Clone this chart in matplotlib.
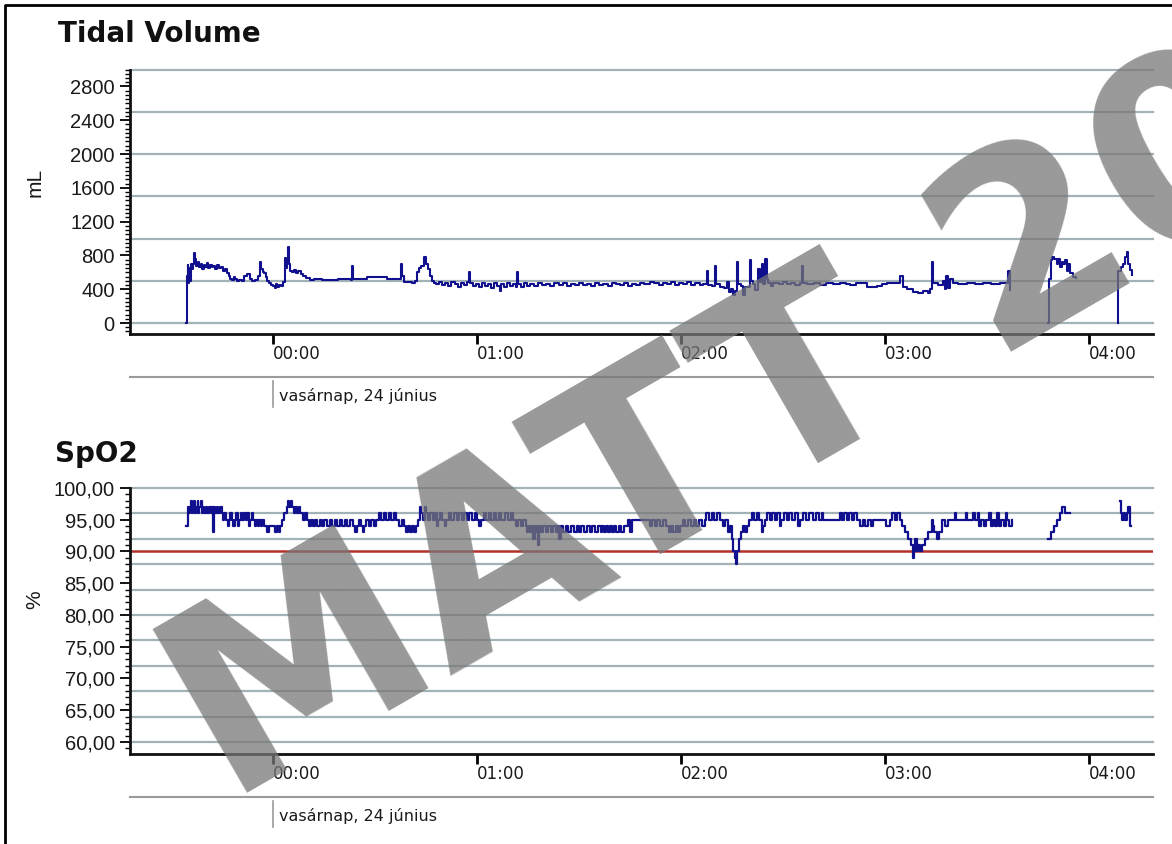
import numpy as np
import matplotlib
matplotlib.use("Agg")
import matplotlib.pyplot as plt
from matplotlib.lines import Line2D
from matplotlib.ticker import FixedLocator, MultipleLocator

nan = np.nan

# ---- data (time = hours from midnight, NaN = gap in recording) ----
tv_hours = [
    -0.427, -0.424, -0.421, -0.418, -0.415, -0.412, -0.408, -0.404, -0.400, -0.395,
    -0.390, -0.385, -0.380, -0.376, -0.370, -0.362, -0.355, -0.348, -0.340, -0.332,
    -0.325, -0.318, -0.310, -0.300, -0.292, -0.283, -0.275, -0.265, -0.255, -0.245,
    -0.235, -0.226, -0.218, -0.210, -0.200, -0.192, -0.185, -0.178, -0.165, -0.150,
    -0.140, -0.128, -0.115, -0.105, -0.090, -0.075, -0.066, -0.058, -0.050, -0.042,
    -0.035, -0.027, -0.018, -0.010, 0.000, 0.008, 0.015, 0.022, 0.030, 0.040,
    0.050, 0.057, 0.063, 0.069, 0.074, 0.078, 0.085, 0.095, 0.105, 0.115,
    0.125, 0.135, 0.145, 0.160, 0.180, 0.200, 0.240, 0.280, 0.320, 0.360,
    0.382, 0.386, 0.390, 0.420, 0.459, 0.520, 0.557, 0.600, 0.622, 0.626,
    0.632, 0.640, 0.660, 0.680, 0.695, 0.704, 0.715, 0.728, 0.742, 0.750,
    0.760, 0.770, 0.780, 0.790, 0.800, 0.815, 0.830, 0.845, 0.860, 0.875,
    0.890, 0.905, 0.920, 0.935, 0.950, 0.963, 0.968, 0.980, 0.995, 1.010,
    1.025, 1.040, 1.055, 1.070, 1.085, 1.100, 1.113, 1.118, 1.130, 1.145,
    1.160, 1.175, 1.190, 1.194, 1.200, 1.215, 1.230, 1.245, 1.260, 1.280,
    1.300, 1.320, 1.340, 1.360, 1.380, 1.400, 1.420, 1.440, 1.460, 1.480,
    1.500, 1.520, 1.540, 1.560, 1.580, 1.600, 1.620, 1.640, 1.660, 1.680,
    1.700, 1.720, 1.740, 1.760, 1.780, 1.800, 1.820, 1.848, 1.870, 1.890,
    1.910, 1.930, 1.950, 1.970, 1.990, 2.010, 2.030, 2.050, 2.070, 2.093,
    2.110, 2.126, 2.132, 2.150, 2.167, 2.172, 2.191, 2.210, 2.224, 2.235,
    2.245, 2.257, 2.265, 2.273, 2.280, 2.295, 2.306, 2.315, 2.338, 2.345,
    2.355, 2.365, 2.379, 2.387, 2.395, 2.402, 2.412, 2.420, 2.428, 2.440,
    2.453, 2.480, 2.500, 2.518, 2.540, 2.560, 2.583, 2.592, 2.598, 2.620,
    2.650, 2.680, 2.710, 2.747, 2.780, 2.810, 2.829, 2.860, 2.910, 2.959,
    2.985, 3.008, 3.060, 3.074, 3.090, 3.110, 3.139, 3.160, 3.188, 3.210,
    3.220, 3.229, 3.237, 3.260, 3.286, 3.292, 3.300, 3.310, 3.320, 3.335,
    3.360, 3.400, 3.440, 3.482, 3.520, 3.564, 3.600, 3.605, 3.613, 3.614,
    3.801, 3.805, 3.812, 3.820, 3.830, 3.842, 3.850, 3.858, 3.866, 3.874,
    3.882, 3.891, 3.899, 3.907, 3.920, 3.936, 3.937,
    4.141, 4.144, 4.155, 4.168, 4.178, 4.185, 4.192, 4.200, 4.211,
]
tv_ml = [
    0, 310, 560, 690, 470, 650, 500, 620, 700, 640,
    700, 830, 760, 680, 720, 660, 700, 640, 690, 660,
    710, 650, 690, 660, 680, 640, 690, 650, 660, 620,
    640, 590, 560, 520, 510, 540, 520, 500, 510, 500,
    560, 580, 520, 500, 510, 560, 720, 640, 600, 590,
    540, 500, 470, 450, 440, 420, 460, 430, 450, 440,
    480, 770, 650, 760, 900, 700, 620, 600, 630, 590,
    610, 580, 560, 530, 510, 520, 505, 510, 520, 515,
    510, 680, 520, 515, 545, 545, 515, 515, 520, 700,
    560, 490, 480, 470, 500, 600, 650, 680, 780, 700,
    640, 560, 500, 470, 460, 480, 450, 470, 440, 480,
    460, 430, 470, 450, 480, 600, 470, 440, 460, 430,
    470, 440, 460, 420, 470, 440, 380, 460, 430, 470,
    440, 460, 430, 600, 460, 430, 470, 440, 460, 440,
    470, 450, 460, 440, 470, 450, 470, 440, 460, 450,
    470, 450, 460, 440, 470, 450, 460, 440, 470, 460,
    450, 470, 440, 460, 450, 470, 460, 490, 470, 450,
    470, 460, 480, 450, 470, 460, 480, 450, 470, 450,
    460, 620, 450, 440, 680, 460, 430, 420, 480, 370,
    400, 330, 380, 720, 460, 440, 330, 430, 740, 500,
    460, 390, 640, 480, 700, 460, 760, 520, 470, 440,
    470, 460, 480, 460, 470, 450, 470, 680, 470, 460,
    470, 450, 470, 460, 470, 460, 450, 470, 430, 440,
    460, 470, 470, 560, 430, 400, 370, 350, 380, 360,
    400, 720, 470, 450, 500, 400, 560, 420, 520, 470,
    460, 470, 460, 470, 460, 470, 470, 620, 390, nan,
    0, 520, 740, 780, 760, 700, 760, 660, 720, 700,
    740, 620, 700, 590, 540, 530, nan,
    0, 620, 660, 700, 780, 840, 700, 630, 570,
]

spo2_hours = [
    -0.426, -0.419, -0.413, -0.408, -0.401, -0.397, -0.392, -0.386, -0.381, -0.376,
    -0.370, -0.366, -0.361, -0.355, -0.350, -0.344, -0.336, -0.330, -0.322, -0.314,
    -0.305, -0.297, -0.293, -0.289, -0.282, -0.276, -0.268, -0.260, -0.252, -0.245,
    -0.238, -0.230, -0.222, -0.216, -0.209, -0.202, -0.195, -0.188, -0.180, -0.172,
    -0.166, -0.158, -0.150, -0.142, -0.134, -0.125, -0.116, -0.111, -0.104, -0.096,
    -0.089, -0.083, -0.075, -0.068, -0.060, -0.053, -0.045, -0.031, -0.018, 0.010,
    0.018, 0.027, 0.034, 0.042, 0.055, 0.068, 0.074, 0.080, 0.088, 0.094,
    0.102, 0.110, 0.118, 0.126, 0.134, 0.145, 0.155, 0.165, 0.175, 0.185,
    0.195, 0.205, 0.215, 0.228, 0.240, 0.252, 0.265, 0.278, 0.290, 0.302,
    0.315, 0.328, 0.340, 0.352, 0.365, 0.378, 0.392, 0.402, 0.410, 0.420,
    0.430, 0.440, 0.447, 0.458, 0.470, 0.482, 0.494, 0.506, 0.518, 0.530,
    0.542, 0.555, 0.567, 0.580, 0.592, 0.605, 0.618, 0.630, 0.642, 0.652,
    0.660, 0.670, 0.680, 0.690, 0.700, 0.712, 0.722, 0.728, 0.736, 0.745,
    0.752, 0.762, 0.772, 0.782, 0.792, 0.802, 0.808, 0.818, 0.830, 0.842,
    0.850, 0.862, 0.875, 0.888, 0.900, 0.912, 0.925, 0.938, 0.950, 0.962,
    0.975, 0.988, 1.000, 1.012, 1.020, 1.032, 1.045, 1.058, 1.070, 1.082,
    1.095, 1.108, 1.120, 1.135, 1.150, 1.165, 1.178, 1.190, 1.202, 1.214,
    1.227, 1.238, 1.245, 1.252, 1.262, 1.270, 1.276, 1.283, 1.292, 1.301,
    1.306, 1.316, 1.326, 1.338, 1.350, 1.362, 1.374, 1.386, 1.396, 1.404,
    1.410, 1.422, 1.435, 1.448, 1.460, 1.474, 1.488, 1.500, 1.512, 1.524,
    1.538, 1.552, 1.566, 1.580, 1.594, 1.606, 1.615, 1.624, 1.633, 1.642,
    1.651, 1.660, 1.670, 1.682, 1.695, 1.708, 1.720, 1.742, 1.752, 1.758,
    1.848, 1.860, 1.872, 1.884, 1.896, 1.910, 1.929, 1.940, 1.950, 1.962,
    1.975, 1.985, 1.995, 2.008, 2.020, 2.034, 2.048, 2.062, 2.076, 2.090,
    2.104, 2.118, 2.125, 2.138, 2.150, 2.164, 2.178, 2.191, 2.205, 2.218,
    2.230, 2.240, 2.248, 2.256, 2.265, 2.270, 2.276, 2.284, 2.292, 2.302,
    2.312, 2.322, 2.334, 2.346, 2.358, 2.371, 2.384, 2.398, 2.404, 2.412,
    2.424, 2.436, 2.448, 2.460, 2.472, 2.485, 2.492, 2.505, 2.518, 2.530,
    2.545, 2.560, 2.575, 2.585, 2.600, 2.615, 2.630, 2.645, 2.660, 2.675,
    2.690, 2.698, 2.779, 2.790, 2.800, 2.812, 2.825, 2.838, 2.850, 2.865,
    2.877, 2.890, 2.902, 2.915, 2.930, 2.943, 3.005, 3.025, 3.035, 3.048,
    3.060, 3.074, 3.082, 3.098, 3.114, 3.126, 3.136, 3.142, 3.147, 3.155,
    3.163, 3.172, 3.180, 3.196, 3.212, 3.229, 3.235, 3.240, 3.253, 3.266,
    3.278, 3.294, 3.310, 3.345, 3.350, 3.395, 3.400, 3.433, 3.440, 3.455,
    3.462, 3.470, 3.485, 3.495, 3.510, 3.518, 3.528, 3.538, 3.550, 3.560,
    3.570, 3.582, 3.592, 3.600, 3.610, 3.621, 3.622,
    3.801, 3.815, 3.830, 3.845, 3.858, 3.866, 3.882, 3.907, 3.908,
    4.150, 4.155, 4.162, 4.170, 4.178, 4.186, 4.192, 4.200, 4.207,
]
spo2_pct = [
    94, 97, 96, 97, 98, 96, 97, 98, 96, 97,
    98, 96, 97, 98, 96, 97, 96, 97, 96, 97,
    96, 97, 93, 97, 96, 97, 96, 97, 96, 95,
    96, 95, 94, 95, 96, 95, 94, 95, 96, 94,
    95, 96, 95, 96, 95, 96, 94, 95, 96, 95,
    94, 95, 94, 95, 94, 95, 94, 93, 94, 93,
    94, 93, 94, 95, 96, 97, 98, 97, 98, 97,
    96, 97, 96, 97, 96, 95, 96, 95, 94, 95,
    94, 95, 94, 95, 94, 95, 94, 95, 94, 95,
    94, 95, 94, 95, 94, 95, 94, 93, 94, 95,
    94, 93, 94, 95, 94, 95, 94, 95, 96, 95,
    96, 95, 96, 95, 96, 95, 94, 95, 94, 93,
    94, 93, 94, 93, 94, 95, 97, 96, 95, 97,
    96, 95, 96, 95, 96, 94, 95, 96, 95, 94,
    95, 96, 95, 96, 95, 96, 95, 96, 95, 96,
    95, 96, 95, 94, 95, 96, 95, 96, 95, 96,
    95, 96, 95, 96, 95, 96, 95, 94, 95, 94,
    95, 94, 93, 94, 93, 94, 92, 94, 93, 91,
    94, 93, 94, 93, 94, 93, 94, 93, 94, 92,
    94, 93, 94, 93, 94, 93, 94, 93, 94, 93,
    94, 93, 94, 93, 94, 93, 94, 93, 94, 93,
    94, 93, 94, 93, 94, 93, 94, 95, 93, 95,
    94, 95, 94, 95, 94, 95, 94, 93, 94, 93,
    94, 93, 94, 95, 94, 95, 94, 95, 94, 95,
    94, 95, 96, 95, 96, 95, 96, 95, 94, 95,
    93, 94, 92, 90, 89, 88, 90, 92, 93, 94,
    93, 94, 95, 96, 95, 96, 95, 93, 94, 95,
    96, 95, 96, 95, 96, 94, 95, 96, 95, 96,
    95, 96, 94, 95, 96, 95, 96, 95, 96, 95,
    96, 95, 96, 95, 96, 95, 96, 95, 96, 95,
    94, 95, 94, 95, 94, 95, 94, 95, 96, 95,
    96, 95, 94, 93, 92, 91, 89, 90, 92, 90,
    91, 90, 91, 92, 93, 95, 94, 93, 92, 93,
    95, 94, 95, 96, 95, 96, 95, 96, 95, 96,
    94, 95, 94, 95, 96, 94, 95, 94, 96, 94,
    95, 94, 96, 95, 94, 95, nan,
    92, 93, 94, 95, 96, 97, 96, 96, nan,
    98, 96, 95, 96, 95, 96, 97, 94, 94,
]

hour_ticks = [0, 1, 2, 3, 4]
hour_labels = ["00:00", "01:00", "02:00", "03:00", "04:00"]
tv_ticks = [0, 400, 800, 1200, 1600, 2000, 2400, 2800]
tv_grid = [0, 500, 1000, 1500, 2000, 2500, 3000]
spo2_ticks = [60, 65, 70, 75, 80, 85, 90, 95, 100]
spo2_tick_labels = ["60,00", "65,00", "70,00", "75,00", "80,00",
                    "85,00", "90,00", "95,00", "100,00"]
spo2_grid = [60, 64, 68, 72, 76, 80, 84, 88, 92, 96, 100]
spo2_limit = 90
date_text = "vasárnap, 24 június"

# ---- layout in pixels ----
W, H = 1172, 844
plt.rcParams["font.family"] = ["DejaVu Sans"]

GRID_COLOR = "#a2b2b7"
LINE_COLOR = "#10108f"
TEXT_COLOR = "#1a1a1a"


def fx(px):
    return px / W


def fy(py):
    return 1 - py / H


fig = plt.figure(figsize=(W / 100, H / 100), dpi=100)
fig.patch.set_facecolor("white")

ax_tv = fig.add_axes([fx(130), fy(334), fx(1153) - fx(130), fy(69.5) - fy(334)])
ax_sp = fig.add_axes([fx(130), fy(754), fx(1153) - fx(130), fy(488) - fy(754)])


def style_axes(ax, grid_values):
    ax.set_xlim(-0.701, 4.314)
    for side in ("top", "right"):
        ax.spines[side].set_visible(False)
    for side in ("left", "bottom"):
        ax.spines[side].set_linewidth(2)
        ax.spines[side].set_color("#111111")
    for g in grid_values:
        ax.axhline(g, color=GRID_COLOR, lw=1.6, zorder=1, clip_on=False)
    ax.set_xticks(hour_ticks)
    ax.set_xticklabels(hour_labels, fontsize=12, color=TEXT_COLOR, ha="left")
    ax.tick_params(axis="x", direction="out", length=7, width=2, pad=1)
    ax.tick_params(axis="y", which="major", direction="out", length=7, width=1.3, pad=4)
    ax.tick_params(axis="y", which="minor", direction="out", length=3.5, width=1)
    for lbl in ax.get_yticklabels():
        lbl.set_fontfamily("Liberation Sans")
        lbl.set_fontsize(14.5)
        lbl.set_color(TEXT_COLOR)


# --- Tidal Volume ---
ax_tv.set_ylim(-130, 3000)
ax_tv.yaxis.set_major_locator(FixedLocator(tv_ticks))
ax_tv.yaxis.set_minor_locator(MultipleLocator(50))
ax_tv.set_yticklabels([str(t) for t in tv_ticks])
style_axes(ax_tv, tv_grid)
ax_tv.plot(tv_hours, tv_ml, drawstyle="steps-post", color=LINE_COLOR, lw=1.5, zorder=3)

# --- SpO2 ---
ax_sp.set_ylim(58.1, 100)
ax_sp.yaxis.set_major_locator(FixedLocator(spo2_ticks))
ax_sp.yaxis.set_minor_locator(MultipleLocator(1))
ax_sp.set_yticklabels(spo2_tick_labels)
style_axes(ax_sp, spo2_grid)
ax_sp.axhline(spo2_limit, color="#b3302c", lw=1.8, zorder=2)
ax_sp.plot(spo2_hours, spo2_pct, drawstyle="steps-post", color=LINE_COLOR, lw=1.6, zorder=3)

# titles and axis names
fig.text(fx(58), fy(42), "Tidal Volume", fontsize=20, fontweight="bold",
         color="#111111", va="baseline")
fig.text(fx(55), fy(462), "SpO2", fontsize=20, fontweight="bold",
         color="#111111", va="baseline")
fig.text(fx(35), fy(182), "mL", rotation=90, fontsize=15, family="Liberation Sans",
         color=TEXT_COLOR, ha="center", va="center")
fig.text(fx(35), fy(600), "%", rotation=90, fontsize=15, family="Liberation Sans",
         color=TEXT_COLOR, ha="center", va="center")

# date band under each time axis
for sep_y, text_y in ((377, 401), (797, 821)):
    fig.add_artist(Line2D([fx(130), fx(1153)], [fy(sep_y), fy(sep_y)],
                          color="#9a9a9a", lw=1.5))
    fig.add_artist(Line2D([fx(273), fx(273)], [fy(sep_y + 4), fy(sep_y + 30)],
                          color="#9a9a9a", lw=1.2))
    fig.text(fx(279), fy(text_y), date_text, fontsize=11.5, color=TEXT_COLOR,
             va="baseline")

# frame around the picture
fig.add_artist(Line2D([fx(5), fx(5), fx(1180)], [fy(850), fy(5), fy(5)],
                      color="black", lw=2))

# watermark (runs off the right edge, as in the original)
fig.text(fx(227), fy(805), "MATT 2012", fontsize=186, fontweight="bold",
         family="DejaVu Sans", color="#777777", alpha=0.75,
         rotation=30, rotation_mode="anchor", ha="left", va="baseline", zorder=10)

fig.savefig("out.png", dpi=100)
